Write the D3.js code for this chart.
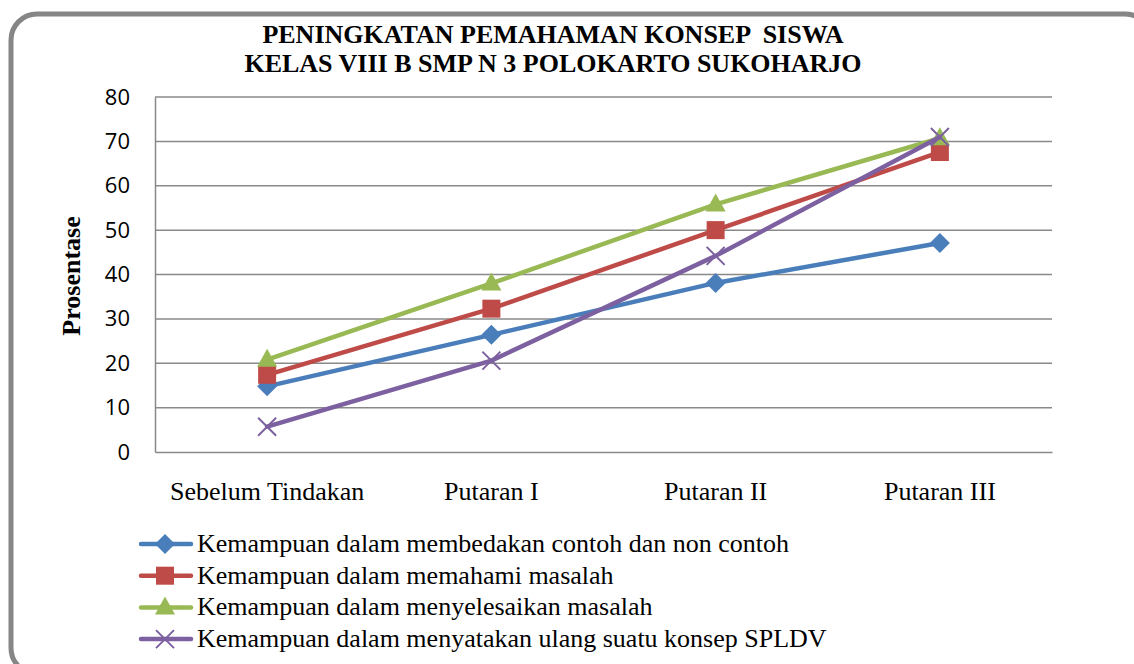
<!DOCTYPE html>
<html>
<head>
<meta charset="utf-8">
<script src="https://cdn.jsdelivr.net/npm/d3@7"></script>
<style>
  body { margin: 0; background: #fff; }
</style>
</head>
<body>
<div class="canva"></div>
<script>
// data
const categories = ['Sebelum Tindakan', 'Putaran I', 'Putaran II', 'Putaran III'];
const seriesNames = [
  'Kemampuan dalam membedakan contoh dan non contoh',
  'Kemampuan dalam memahami masalah',
  'Kemampuan dalam menyelesaikan masalah',
  'Kemampuan dalam menyatakan ulang suatu konsep SPLDV'
];
const membedakan = [14.8, 26.4, 38.1, 47.1];
const memahami = [17.4, 32.3, 50.0, 67.6];
const menyelesaikan = [20.8, 38.0, 55.8, 70.7];
const menyatakan = [5.7, 20.6, 44.2, 71.0];
const yTicks = [0, 10, 20, 30, 40, 50, 60, 70, 80];
const titleLines = ['PENINGKATAN PEMAHAMAN KONSEP  SISWA', 'KELAS VIII B SMP N 3 POLOKARTO SUKOHARJO'];

const colors = ['#4a7ebb', '#be4b48', '#98b954', '#7d60a0'];
const symbols = ['diamond', 'square', 'triangle', 'x'];
const seriesValues = [membedakan, memahami, menyelesaikan, menyatakan];

const width = 1134, height = 664;
const serif = '"Liberation Serif", "Times New Roman", serif';
const svg = d3.select('.canva').append('svg')
  .attr('width', width)
  .attr('height', height)
  .style('display', 'block');

// outer rounded frame
svg.append('rect')
  .attr('x', 11).attr('y', 14)
  .attr('width', 1140).attr('height', 660)
  .attr('rx', 26).attr('ry', 26)
  .attr('fill', 'none')
  .attr('stroke', '#868686')
  .attr('stroke-width', 5);

const margin = { top: 97, left: 155, right: 1052, bottom: 452 };

const x = d3.scaleBand()
  .domain(categories)
  .range([margin.left, margin.right]);

const y = d3.scaleLinear()
  .domain([0, 80])
  .range([margin.bottom, margin.top]);

// title
svg.append('g').selectAll('text')
  .data(titleLines)
  .enter().append('text')
  .attr('x', 553)
  .attr('y', (d, i) => 43 + i * 29)
  .attr('text-anchor', 'middle')
  .style('font-family', serif)
  .style('font-weight', 'bold')
  .style('font-size', '26px')
  .style('white-space', 'pre')
  .text(d => d);

// gridlines
svg.append('g').selectAll('line')
  .data(yTicks.filter(t => t > 0))
  .enter().append('line')
  .attr('x1', margin.left).attr('x2', margin.right)
  .attr('y1', d => y(d)).attr('y2', d => y(d))
  .attr('stroke', '#898989')
  .attr('stroke-width', 1.5);

// axes
const yAxis = d3.axisLeft(y).tickValues(yTicks).tickSize(0).tickPadding(25);
const yAxisGroup = svg.append('g')
  .attr('transform', `translate(${margin.left},0)`)
  .call(yAxis);
yAxisGroup.select('.domain').attr('stroke', '#898989').attr('stroke-width', 1.5);
yAxisGroup.selectAll('text')
  .style('font-family', '"Open Sans", "Liberation Sans", sans-serif')
  .style('font-size', '22px')
  .attr('fill', '#000');

const xAxis = d3.axisBottom(x).tickSize(0).tickPadding(30);
const xAxisGroup = svg.append('g')
  .attr('transform', `translate(0,${margin.bottom})`)
  .call(xAxis);
xAxisGroup.select('.domain').attr('stroke', '#898989').attr('stroke-width', 1.5);
xAxisGroup.selectAll('text')
  .style('font-family', serif)
  .style('font-size', '26px')
  .attr('fill', '#000');

// y title
svg.append('text')
  .attr('transform', 'translate(80, 276) rotate(-90)')
  .attr('text-anchor', 'middle')
  .style('font-family', serif)
  .style('font-weight', 'bold')
  .style('font-size', '26px')
  .text('Prosentase');

const cx = d => x(d) + x.bandwidth() / 2;

function drawMarker(g, type, color, px, py) {
  if (type === 'diamond') {
    g.append('path')
      .attr('d', `M${px},${py - 10}L${px + 10},${py}L${px},${py + 10}L${px - 10},${py}Z`)
      .attr('fill', color);
  } else if (type === 'square') {
    g.append('rect')
      .attr('x', px - 9).attr('y', py - 9)
      .attr('width', 18).attr('height', 18)
      .attr('fill', color);
  } else if (type === 'triangle') {
    g.append('path')
      .attr('d', `M${px},${py - 11}L${px + 10},${py + 7}L${px - 10},${py + 7}Z`)
      .attr('fill', color);
  } else {
    g.append('path')
      .attr('d', `M${px - 9},${py - 9}L${px + 9},${py + 9}M${px - 9},${py + 9}L${px + 9},${py - 9}`)
      .attr('stroke', color)
      .attr('stroke-width', 2);
  }
}

const line = d3.line()
  .x((d, i) => cx(categories[i]))
  .y(d => y(d));

seriesValues.forEach((vals, s) => {
  const g = svg.append('g');
  g.append('path')
    .datum(vals)
    .attr('d', line)
    .attr('fill', 'none')
    .attr('stroke', colors[s])
    .attr('stroke-width', 4.5)
    .attr('stroke-linejoin', 'round')
    .attr('stroke-linecap', 'round');
  vals.forEach((v, i) => drawMarker(g, symbols[s], colors[s], cx(categories[i]), y(v)));
});

// legend
const legend = svg.append('g');
seriesNames.forEach((name, s) => {
  const ly = 544 + s * 31.7;
  const g = legend.append('g');
  g.append('line')
    .attr('x1', 141).attr('x2', 191)
    .attr('y1', ly).attr('y2', ly)
    .attr('stroke', colors[s])
    .attr('stroke-width', 4.5)
    .attr('stroke-linecap', 'round');
  drawMarker(g, symbols[s], colors[s], 165, ly);
  g.append('text')
    .attr('x', 197)
    .attr('y', ly + 8)
    .style('font-family', serif)
    .style('font-size', '26px')
    .text(name);
});
</script>
</body>
</html>
